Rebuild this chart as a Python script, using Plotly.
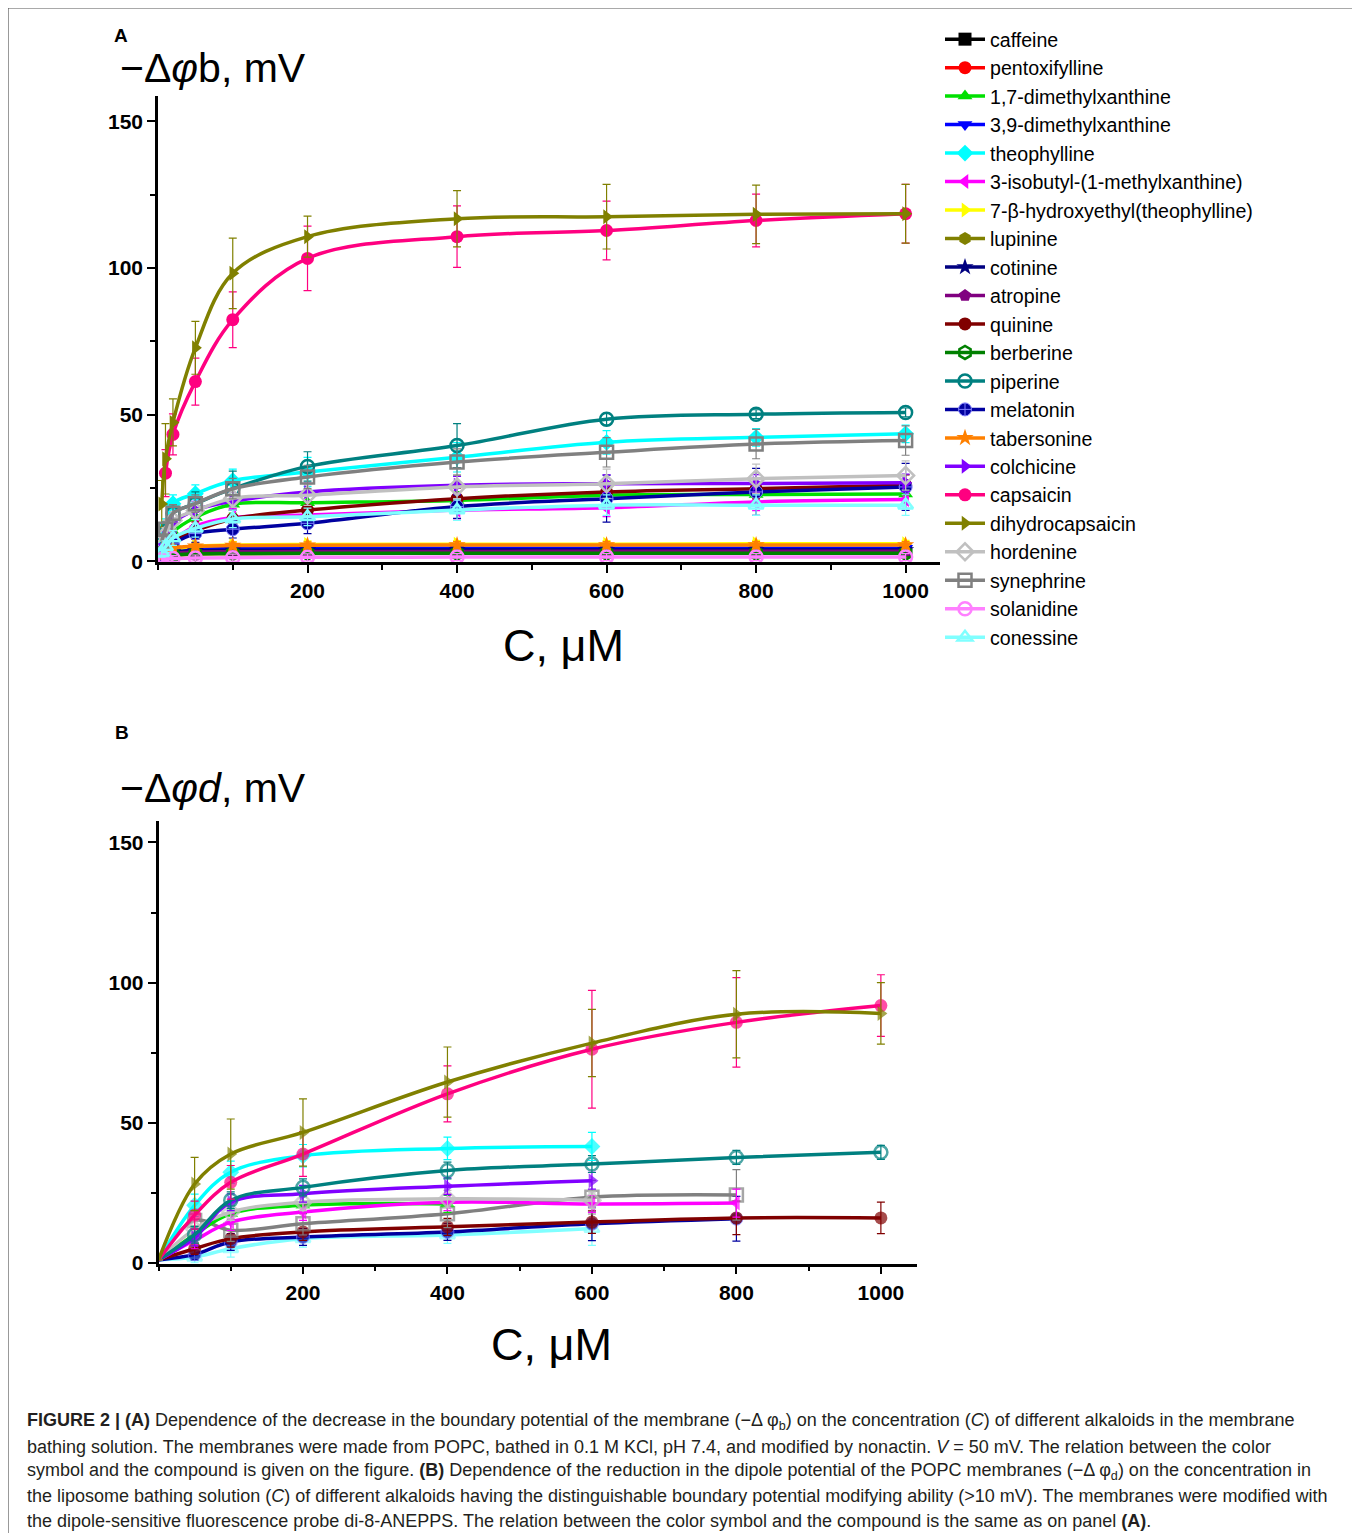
import plotly.graph_objects as go

# the page body adds an 8 px margin, so the figure is 8 px smaller than the window
OFF = 8
W, H = 1352, 1525

# ---------------- data ----------------
names = ["caffeine", "pentoxifylline", "1,7-dimethylxanthine", "3,9-dimethylxanthine",
         "theophylline", "3-isobutyl-(1-methylxanthine)", "7-β-hydroxyethyl(theophylline)",
         "lupinine", "cotinine", "atropine", "quinine", "berberine", "piperine", "melatonin",
         "tabersonine", "colchicine", "capsaicin", "dihydrocapsaicin", "hordenine",
         "synephrine", "solanidine", "conessine"]

# Panel A: concentration, µM
conc_a = [5, 10, 20, 50, 100, 200, 400, 600, 800, 1000]
a_caffeine = [1.0, 1.5, 2.5, 3.0, 3.2, 3.3, 3.4, 3.4, 3.5, 3.5]
a_pentox = [1.2, 2.0, 3.0, 3.6, 3.8, 3.9, 4.0, 4.0, 4.0, 4.0]
a_17dmx = [3.0, 6.0, 10.0, 15.0, 19.5, 20.0, 20.8, 22.6, 22.8, 23.0]
a_39dmx = [1.5, 2.5, 3.5, 4.2, 4.4, 4.5, 4.5, 4.5, 4.5, 4.5]
a_theoph = [8.0, 12.0, 19.7, 23.1, 27.5, 30.5, 35.5, 40.6, 42.3, 43.5]
a_ibmx = [2.0, 4.0, 7.0, 12.0, 15.0, 15.8, 17.5, 18.3, 20.3, 21.1]
a_hydroxy = [1.5, 2.5, 4.0, 5.2, 5.6, 5.8, 5.9, 5.9, 6.0, 6.0]
a_lupinine = [1.0, 1.5, 2.0, 2.5, 2.6, 2.7, 2.8, 2.8, 2.8, 2.8]
a_cotinine = [1.5, 2.5, 3.2, 3.6, 3.8, 3.8, 3.9, 3.9, 3.9, 3.9]
a_atropine = [1.2, 2.0, 2.8, 3.2, 3.3, 3.4, 3.4, 3.5, 3.5, 3.5]
a_quinine = [2.0, 4.0, 7.0, 10.5, 14.5, 17.5, 21.4, 23.7, 24.8, 26.0]
a_berberine = [1.0, 1.5, 2.2, 2.6, 2.7, 2.8, 2.8, 2.8, 2.8, 2.8]
a_piperine = [6.0, 10.0, 16.4, 19.7, 24.8, 32.4, 39.5, 48.5, 50.2, 50.8]
a_melatonin = [2.0, 4.0, 6.0, 9.5, 11.0, 13.0, 18.7, 21.4, 23.7, 25.4]
a_tabersonine = [2.0, 3.0, 4.5, 5.2, 5.4, 5.5, 5.6, 5.6, 5.6, 5.6]
a_colchicine = [4.0, 8.0, 13.0, 17.5, 20.5, 23.7, 26.0, 26.5, 26.6, 26.8]
a_capsaicin = [None, 30.1, 43.3, 61.3, 82.4, 103.3, 110.7, 112.8, 116.2, 118.5]
a_dihydro = [19.6, 35.0, 47.4, 72.8, 98.2, 110.7, 116.8, 117.5, 118.3, 118.5]
a_hordenine = [5.0, 9.0, 14.0, 17.3, 21.5, 22.6, 25.4, 26.5, 28.2, 29.3]
a_synephrine = [7.0, 11.0, 16.4, 19.7, 24.8, 28.8, 33.9, 37.2, 40.0, 41.2]
a_solanidine = [0.5, 0.8, 1.0, 1.2, 1.3, 1.4, 1.5, 1.5, 1.5, 1.5]
a_conessine = [3.0, 5.0, 8.0, 11.3, 14.5, 15.2, 17.5, 19.2, 19.2, 19.2]

# Panel A: error (SD)
e_small = [0.8, 0.8, 1.0, 1.0, 1.2, 1.2, 1.2, 1.2, 1.2, 1.2]
e_17dmx = [1.5, 2.0, 2.0, 2.5, 3.0, 3.0, 3.0, 3.0, 3.0, 3.0]
e_theoph = [2.0, 2.5, 3.0, 3.0, 4.0, 5.0, 5.0, 4.0, 3.0, 3.0]
e_ibmx = [1.5, 2.0, 2.5, 3.0, 3.0, 3.0, 3.0, 3.0, 3.0, 3.0]
e_quinine = [1.5, 2.0, 2.5, 3.0, 3.0, 3.0, 3.5, 3.5, 3.5, 3.5]
e_piperine = [2.0, 2.5, 3.0, 4.0, 6.0, 5.0, 7.5, 2.0, 1.5, 1.5]
e_melatonin = [1.5, 2.0, 2.5, 3.0, 3.0, 3.5, 4.0, 8.0, 8.0, 8.0]
e_colchicine = [2.0, 2.5, 3.0, 3.0, 3.0, 3.0, 3.0, 3.0, 3.0, 3.0]
e_capsaicin = [0, 8.0, 7.0, 8.0, 9.5, 11.0, 10.5, 10.0, 9.0, 10.0]
e_dihydro = [8.0, 12.0, 8.0, 9.0, 12.0, 7.0, 9.6, 11.0, 10.0, 10.0]
e_hordenine = [2.0, 2.5, 3.0, 3.0, 3.0, 3.5, 4.0, 5.0, 5.0, 5.0]
e_synephrine = [2.0, 2.5, 3.0, 3.0, 3.5, 4.0, 4.5, 5.0, 5.0, 5.0]
e_conessine = [1.5, 2.0, 2.5, 3.0, 3.0, 3.0, 3.5, 3.5, 3.5, 3.5]

# Panel B: concentration, µM
conc_b = [0, 50, 100, 200, 400, 600, 800, 1000]
b_dihydro = [1.0, 28.1, 38.8, 46.5, 64.5, 78.4, 88.7, 89.0]
b_capsaicin = [1.0, 17.0, 28.7, 38.8, 60.3, 76.2, 85.8, 91.8]
b_theoph = [1.0, 20.5, 32.3, 38.2, 40.8, 41.5]
b_piperine = [1.0, 10.0, 22.3, 26.9, 32.9, 35.2, 37.6, 39.4]
b_colchicine = [1.0, 9.0, 21.6, 24.6, 27.3, 29.3]
b_hordenine = [1.0, 12.0, 18.1, 21.6, 22.8, 22.3]
b_ibmx = [1.0, 8.0, 14.5, 18.1, 21.6, 21.0, 21.3]
b_17dmx = [1.0, 10.0, 17.5, 20.5, 21.0]
b_synephrine = [1.0, 15.1, 11.6, 13.9, 17.5, 23.4, 24.2]
b_quinine = [1.0, 5.0, 8.6, 11.0, 12.8, 14.5, 16.0, 16.0]
b_melatonin = [1.0, 3.0, 7.4, 9.2, 11.0, 13.9, 15.7]
b_conessine = [1.0, 2.0, 5.0, 8.6, 9.9, 12.2]

eb_dihydro = [0, 9.5, 12.5, 12.0, 12.5, 12.0, 15.6, 11.0]
eb_capsaicin = [0, 5.0, 6.0, 8.0, 10.0, 21.0, 16.0, 11.0]
eb_theoph = [0, 4.0, 4.0, 4.0, 4.0, 5.0]
eb_piperine = [0, 3.0, 3.0, 3.0, 3.0, 3.0, 2.5, 2.5]
eb_colchicine = [0, 3.0, 3.0, 3.0, 3.0, 3.0]
eb_hordenine = [0, 3.0, 3.0, 3.0, 3.0, 3.0]
eb_ibmx = [0, 3.0, 3.0, 3.0, 3.0, 3.0, 5.0]
eb_17dmx = [0, 3.0, 3.0, 3.0, 3.0]
eb_synephrine = [0, 4.0, 4.0, 4.0, 5.0, 6.0, 9.0]
eb_quinine = [0, 2.0, 3.0, 3.0, 3.0, 4.0, 6.0, 5.6]
eb_melatonin = [0, 2.0, 3.0, 3.0, 3.0, 6.0, 8.0]
eb_conessine = [0, 2.0, 3.0, 3.0, 3.0, 6.0]

x_ticks = [200, 400, 600, 800, 1000]
y_ticks = [0, 50, 100, 150]

# ---------------- styles ----------------
style = {
    "caffeine": ("#000000", "square"),
    "pentoxifylline": ("#ff0000", "circle"),
    "1,7-dimethylxanthine": ("#00e000", "triangle-up"),
    "3,9-dimethylxanthine": ("#0000ff", "triangle-down"),
    "theophylline": ("#00ffff", "diamond"),
    "3-isobutyl-(1-methylxanthine)": ("#ff00ff", "triangle-left"),
    "7-β-hydroxyethyl(theophylline)": ("#ffff00", "triangle-right"),
    "lupinine": ("#808000", "hexagon"),
    "cotinine": ("#000080", "star"),
    "atropine": ("#800080", "pentagon"),
    "quinine": ("#800000", "circle"),
    "berberine": ("#008000", "hexagon-open"),
    "piperine": ("#008080", "circle-open"),
    "melatonin": ("#0000a0", "circle-cross"),
    "tabersonine": ("#ff8000", "star"),
    "colchicine": ("#8000ff", "triangle-right"),
    "capsaicin": ("#ff0080", "circle"),
    "dihydrocapsaicin": ("#808000", "triangle-right"),
    "hordenine": ("#c0c0c0", "diamond-open"),
    "synephrine": ("#808080", "square-open"),
    "solanidine": ("#ff80ff", "circle-open"),
    "conessine": ("#80ffff", "triangle-up-open"),
}

panel_a = {
    "caffeine": (a_caffeine, e_small), "pentoxifylline": (a_pentox, e_small),
    "1,7-dimethylxanthine": (a_17dmx, e_17dmx), "3,9-dimethylxanthine": (a_39dmx, e_small),
    "theophylline": (a_theoph, e_theoph), "3-isobutyl-(1-methylxanthine)": (a_ibmx, e_ibmx),
    "7-β-hydroxyethyl(theophylline)": (a_hydroxy, e_small), "lupinine": (a_lupinine, e_small),
    "cotinine": (a_cotinine, e_small), "atropine": (a_atropine, e_small),
    "quinine": (a_quinine, e_quinine), "berberine": (a_berberine, e_small),
    "piperine": (a_piperine, e_piperine), "melatonin": (a_melatonin, e_melatonin),
    "tabersonine": (a_tabersonine, e_small), "colchicine": (a_colchicine, e_colchicine),
    "capsaicin": (a_capsaicin, e_capsaicin), "dihydrocapsaicin": (a_dihydro, e_dihydro),
    "hordenine": (a_hordenine, e_hordenine), "synephrine": (a_synephrine, e_synephrine),
    "solanidine": (a_solanidine, e_small), "conessine": (a_conessine, e_conessine),
}

panel_b = [
    ("conessine", b_conessine, eb_conessine), ("melatonin", b_melatonin, eb_melatonin),
    ("quinine", b_quinine, eb_quinine), ("synephrine", b_synephrine, eb_synephrine),
    ("1,7-dimethylxanthine", b_17dmx, eb_17dmx), ("3-isobutyl-(1-methylxanthine)", b_ibmx, eb_ibmx),
    ("hordenine", b_hordenine, eb_hordenine), ("colchicine", b_colchicine, eb_colchicine),
    ("piperine", b_piperine, eb_piperine), ("theophylline", b_theoph, eb_theoph),
    ("capsaicin", b_capsaicin, eb_capsaicin), ("dihydrocapsaicin", b_dihydro, eb_dihydro),
]

FONT = "Liberation Sans, Arial, sans-serif"


def marker_for(name, xs=None):
    color, sym = style[name]
    opened = sym.endswith("-open")
    sizes = 13
    if xs is not None:
        sizes = [0 if x == 0 else 13 for x in xs]
    m = dict(color=color, symbol=sym, size=sizes)
    if opened:
        m["line"] = dict(color=color, width=2.5)
    elif sym == "circle-cross":
        m["line"] = dict(color="#8080ff", width=1)
    else:
        m["line"] = dict(width=0)
    return m


fig = go.Figure()

for name in names:
    ys, es = panel_a[name]
    color, sym = style[name]
    fig.add_trace(go.Scatter(
        x=conc_a, y=ys, name=name, mode="lines+markers",
        line=dict(color=color, width=3.5, shape="spline", smoothing=1.0),
        marker=marker_for(name),
        error_y=dict(type="data", array=es, visible=True, color=color, thickness=1.2, width=4),
        xaxis="x", yaxis="y", showlegend=True,
    ))

for name, ys, es in panel_b:
    color, sym = style[name]
    xs = conc_b[:len(ys)]
    fig.add_trace(go.Scatter(
        x=xs, y=ys, name=name, mode="lines+markers",
        line=dict(color=color, width=3.5, shape="spline", smoothing=1.0),
        marker=marker_for(name, xs),
        error_y=dict(type="data", array=es, visible=True, color=color, thickness=1.2, width=4),
        xaxis="x2", yaxis="y2", showlegend=False,
    ))


def fx(px):
    return (px - OFF) / W


def fy(py):
    return 1 - (py - OFF) / H


axis_common = dict(
    showgrid=False, zeroline=False, showline=True, linecolor="black", linewidth=2.5,
    ticks="outside", ticklen=8, tickwidth=2, tickcolor="black",
    tickfont=dict(family=FONT, size=21, color="black", weight="bold"),
)
minor_x = dict(dtick=100, ticks="outside", ticklen=5, tickwidth=2, tickcolor="black")
minor_y = dict(dtick=25, ticks="outside", ticklen=5, tickwidth=2, tickcolor="black")

fig.update_layout(
    width=W, height=H,
    margin=dict(l=0, r=0, t=0, b=0),
    paper_bgcolor="white", plot_bgcolor="white",
    xaxis=dict(domain=[fx(158), fx(940)], range=[0, 1046], anchor="y",
               tickvals=x_ticks, minor=minor_x, **axis_common),
    yaxis=dict(domain=[fy(566), fy(97)], range=[-0.3, 158.5], anchor="x",
               tickvals=y_ticks, minor=minor_y, **axis_common),
    xaxis2=dict(domain=[fx(158.5), fx(917)], range=[0, 1050], anchor="y2",
                tickvals=x_ticks, minor=minor_x, **axis_common),
    yaxis2=dict(domain=[fy(1272), fy(826)], range=[-0.35, 157.8], anchor="x2",
                tickvals=y_ticks, minor=minor_y, **axis_common),
    legend=dict(x=fx(940), y=fy(20), xanchor="left", yanchor="top",
                font=dict(family=FONT, size=19.6, color="black"),
                bgcolor="rgba(0,0,0,0)", itemwidth=40, tracegroupgap=0),
    showlegend=True,
)

ann = []
ann.append(dict(x=fx(121), y=fy(36), xanchor="center", text="<b>A</b>",
                font=dict(family=FONT, size=19, color="black")))
ann.append(dict(x=fx(122), y=fy(737), xanchor="center", text="<b>B</b>",
                font=dict(family=FONT, size=19, color="black")))
ann.append(dict(x=fx(118), y=fy(68), xanchor="left", text="−Δ<i>φ</i>b, mV",
                font=dict(family=FONT, size=41, color="black")))
ann.append(dict(x=fx(118), y=fy(793), xanchor="left", text="−Δ<i>φ</i><i>d</i>, mV",
                font=dict(family=FONT, size=41, color="black")))
ann.append(dict(x=fx(563), y=fy(650), xanchor="center", text="C, μM",
                font=dict(family=FONT, size=45, color="black")))
ann.append(dict(x=fx(551), y=fy(1353), xanchor="center", text="C, μM",
                font=dict(family=FONT, size=45, color="black")))

caption = [
    "<b>FIGURE 2 | (A)</b> Dependence of the decrease in the boundary potential of the membrane (−Δ φ<sub>b</sub>) on the concentration (<i>C</i>) of different alkaloids in the membrane",
    "bathing solution. The membranes were made from POPC, bathed in 0.1 M KCl, pH 7.4, and modified by nonactin. <i>V</i> = 50 mV. The relation between the color",
    "symbol and the compound is given on the figure. <b>(B)</b> Dependence of the reduction in the dipole potential of the POPC membranes (−Δ φ<sub>d</sub>) on the concentration in",
    "the liposome bathing solution (<i>C</i>) of different alkaloids having the distinguishable boundary potential modifying ability (&gt;10 mV). The membranes were modified with",
    "the dipole-sensitive fluorescence probe di-8-ANEPPS. The relation between the color symbol and the compound is the same as on panel <b>(A)</b>.",
]
for i, line in enumerate(caption):
    ann.append(dict(x=fx(25), y=fy(1431 + 25 * i), xanchor="left", text=line,
                    font=dict(family=FONT, size=18, color="#231f20")))

for a in ann:
    a.update(xref="paper", yref="paper", showarrow=False, yanchor="middle")
fig.update_layout(annotations=ann)

fig.add_shape(type="rect", xref="paper", yref="paper", x0=fx(8), x1=fx(1356), y0=fy(1600), y1=fy(8),
              line=dict(color="#555555", width=1.2), fillcolor="rgba(0,0,0,0)", layer="below")

fig.write_html("out.html")
